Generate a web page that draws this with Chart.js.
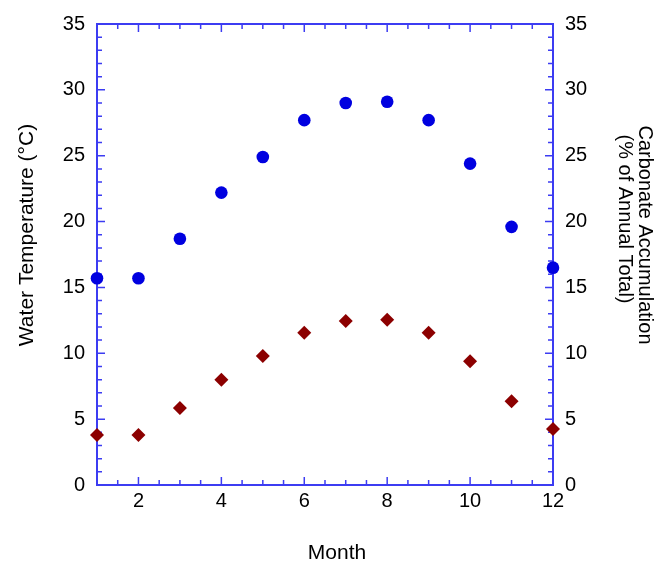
<!DOCTYPE html>
<html>
<head>
<meta charset="utf-8">
<script src="https://cdn.jsdelivr.net/npm/chart.js@4/dist/chart.umd.min.js"></script>
<style>
    html, body { margin: 0; padding: 0; background: #fff; }
    #wrap { width: 662px; height: 570px; }
</style>
</head>
<body>
<div id="wrap"><canvas id="chart" width="662" height="570"></canvas></div>
<script>
(function () {
    'use strict';

    // --- Data ---
    const months = [1, 2, 3, 4, 5, 6, 7, 8, 9, 10, 11, 12];
    const waterTemp = [15.7, 15.7, 18.7, 22.2, 24.9, 27.7, 29.0, 29.1, 27.7, 24.4, 19.6, 16.5];
    const carbonate = [3.8, 3.8, 5.85, 8.0, 9.8, 11.55, 12.45, 12.55, 11.55, 9.4, 6.35, 4.25];
    const xTickLabels = [2, 4, 6, 8, 10, 12];
    const yTickLabels = [0, 5, 10, 15, 20, 25, 30, 35];

    const FONT = '"Liberation Sans", Arial, Helvetica, sans-serif';
    const AXIS_BLUE = '#3c3cf2';

    function toPoints(values) {
        return months.map((m, i) => ({ x: m, y: values[i] }));
    }

    function fixedTicks(values) {
        return (scale) => { scale.ticks = values.map(v => ({ value: v })); };
    }

    // Inward ticks on all four spines, drawn through the chart's scales
    const frame = {
        id: 'frame',
        beforeDatasetsDraw(chart) {
            const { ctx, chartArea: a, scales } = chart;
            const x = scales.x, y = scales.y;
            ctx.save();
            ctx.strokeStyle = AXIS_BLUE;
            ctx.lineWidth = 1.5;
            ctx.beginPath();
            for (let v = x.min + 0.5; v < x.max; v += 0.5) {
                const px = x.getPixelForValue(v);
                const len = v % 2 === 0 ? 8 : 5;
                ctx.moveTo(px, a.bottom); ctx.lineTo(px, a.bottom - len);
                ctx.moveTo(px, a.top); ctx.lineTo(px, a.top + len);
            }
            for (let v = y.min + 1; v < y.max; v += 1) {
                const py = y.getPixelForValue(v);
                const len = v % 5 === 0 ? 8 : 5;
                ctx.moveTo(a.left, py); ctx.lineTo(a.left + len, py);
                ctx.moveTo(a.right, py); ctx.lineTo(a.right - len, py);
            }
            ctx.stroke();
            ctx.lineWidth = 2;
            ctx.strokeRect(a.left, a.top, a.right - a.left, a.bottom - a.top);
            ctx.restore();
        },
        afterDraw(chart) {
            const ctx = chart.ctx;
            ctx.save();
            ctx.fillStyle = '#000';
            ctx.textAlign = 'center';
            ctx.textBaseline = 'middle';
            ctx.font = '21px ' + FONT;
            ctx.fillText('Month', 337, 553);

            ctx.translate(27, 235);
            ctx.rotate(-Math.PI / 2);
            ctx.fillText('Water Temperature (\u00B0C)', 0, 0);
            ctx.restore();

            ctx.save();
            ctx.fillStyle = '#000';
            ctx.textAlign = 'center';
            ctx.textBaseline = 'middle';
            ctx.font = '20px ' + FONT;
            ctx.translate(645, 235);
            ctx.rotate(Math.PI / 2);
            ctx.fillText('Carbonate Accumulation', 0, 0);
            ctx.fillText('(% of Annual Total)', -16, 20);
            ctx.restore();
        },
    };

    const tickFont = { family: FONT, size: 20 };

    new Chart(document.getElementById('chart'), {
        type: 'scatter',
        data: {
            datasets: [
                {
                    label: 'Water Temperature',
                    data: toPoints(waterTemp),
                    yAxisID: 'y',
                    pointStyle: 'circle',
                    pointRadius: 6.3,
                    backgroundColor: '#0000e0',
                    borderColor: '#0000e0',
                    borderWidth: 0,
                    clip: false,
                },
                {
                    label: 'Carbonate Accumulation',
                    data: toPoints(carbonate),
                    yAxisID: 'y1',
                    pointStyle: 'rectRot',
                    pointRadius: 7,
                    backgroundColor: '#8c0000',
                    borderColor: '#8c0000',
                    borderWidth: 0,
                    clip: false,
                },
            ],
        },
        options: {
            responsive: false,
            animation: false,
            layout: { padding: { top: 23, left: 0, right: 0, bottom: 0 } },
            plugins: { legend: { display: false }, tooltip: { enabled: false } },
            scales: {
                x: {
                    type: 'linear',
                    min: 1,
                    max: 12,
                    grid: { display: false, drawTicks: false },
                    border: { display: false },
                    ticks: { font: tickFont, color: '#000', padding: 4 },
                    afterBuildTicks: fixedTicks(xTickLabels),
                    afterFit(scale) { scale.height = 85; },
                },
                y: {
                    position: 'left',
                    min: 0,
                    max: 35,
                    grid: { display: false, drawTicks: false },
                    border: { display: false },
                    ticks: { font: tickFont, color: '#000', padding: 12 },
                    afterBuildTicks: fixedTicks(yTickLabels),
                    afterFit(scale) { scale.width = 97; },
                },
                y1: {
                    position: 'right',
                    min: 0,
                    max: 35,
                    grid: { display: false, drawTicks: false },
                    border: { display: false },
                    ticks: { font: tickFont, color: '#000', padding: 12 },
                    afterBuildTicks: fixedTicks(yTickLabels),
                    afterFit(scale) { scale.width = 109; },
                },
            },
        },
        plugins: [frame],
    });
})();
</script>
</body>
</html>
